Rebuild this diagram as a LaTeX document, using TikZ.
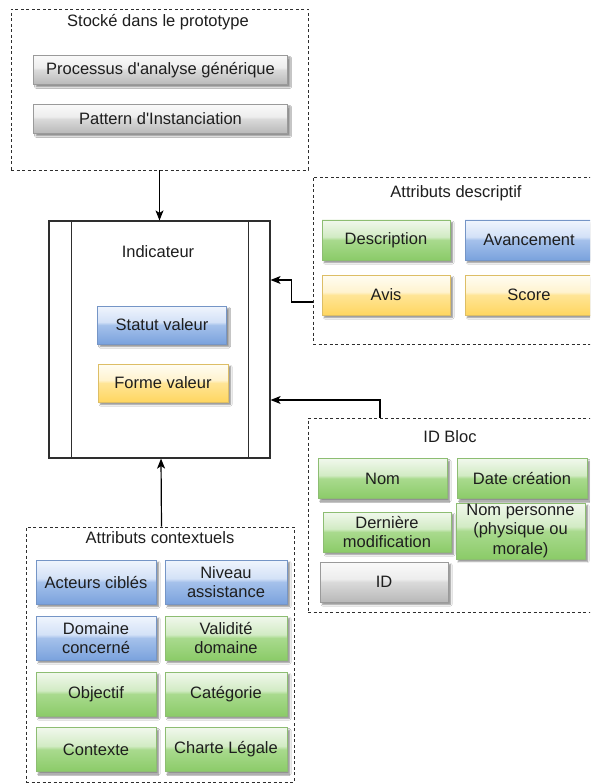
\documentclass[tikz,border=0pt]{standalone}
\usepackage{fontspec}
\setmainfont{Liberation Sans}
\usetikzlibrary{arrows.meta,shadows.blur}

\definecolor{txt}{HTML}{1E1E1E}
\definecolor{frame}{HTML}{2E2E2E}
% button palettes: top, light band, middle, bottom, stroke
\definecolor{greyT}{HTML}{FAFAFA}\definecolor{greyL}{HTML}{EDEDED}\definecolor{greyM}{HTML}{DADADA}\definecolor{greyB}{HTML}{B8B8B8}\definecolor{greyS}{HTML}{9A9A9A}
\definecolor{greenT}{HTML}{F1F8ED}\definecolor{greenL}{HTML}{D2EBC4}\definecolor{greenM}{HTML}{A9DA8E}\definecolor{greenB}{HTML}{8BCB68}\definecolor{greenS}{HTML}{8DBD72}
\definecolor{blueT}{HTML}{F0F5FD}\definecolor{blueL}{HTML}{D3E1F7}\definecolor{blueM}{HTML}{A5C1EB}\definecolor{blueB}{HTML}{7AA2DD}\definecolor{blueS}{HTML}{7595C6}
\definecolor{yellowT}{HTML}{FFFDF3}\definecolor{yellowL}{HTML}{FFF3CF}\definecolor{yellowM}{HTML}{FFE596}\definecolor{yellowB}{HTML}{FFD660}\definecolor{yellowS}{HTML}{DDBE66}

% glossy vertical shadings (the path spans 25bp..75bp)
\pgfdeclareverticalshading{glassgrey}{100bp}{color(0bp)=(greyB); color(25bp)=(greyB); color(50bp)=(greyM); color(54bp)=(greyL); color(75bp)=(greyT); color(100bp)=(greyT)}
\pgfdeclareverticalshading{glassgreen}{100bp}{color(0bp)=(greenB); color(25bp)=(greenB); color(50bp)=(greenM); color(54bp)=(greenL); color(75bp)=(greenT); color(100bp)=(greenT)}
\pgfdeclareverticalshading{glassblue}{100bp}{color(0bp)=(blueB); color(25bp)=(blueB); color(50bp)=(blueM); color(54bp)=(blueL); color(75bp)=(blueT); color(100bp)=(blueT)}
\pgfdeclareverticalshading{glassyellow}{100bp}{color(0bp)=(yellowB); color(25bp)=(yellowB); color(50bp)=(yellowM); color(54bp)=(yellowL); color(75bp)=(yellowT); color(100bp)=(yellowT)}

\newcommand\btnfont{\fontsize{16.5}{19.5}\selectfont}

\begin{document}
\begin{tikzpicture}[x=1pt,y=-1pt,
  btn/.style={rectangle, inner sep=1pt, align=center, font=\btnfont, text=txt,
    line width=0.5pt,
    blur shadow={shadow xshift=2.5pt, shadow yshift=-2.5pt, shadow blur radius=1.5pt, shadow opacity=45}},
  bsize/.style 2 args={minimum width=#1, minimum height=#2},
  greybtn/.style={btn, draw=greyS, shading=glassgrey},
  greenbtn/.style={btn, draw=greenS, shading=glassgreen},
  bluebtn/.style={btn, draw=blueS, shading=glassblue},
  yellowbtn/.style={btn, draw=yellowS, shading=glassyellow},
  group/.style={rectangle, draw=frame, line width=0.9pt, dash pattern=on 3pt off 2.5pt},
  title/.style={font=\btnfont, text=txt, inner sep=0pt},
  conn/.style={draw=black, line width=1.2pt, -{Stealth[length=10pt,width=8pt,inset=2.5pt]}}
]
\useasboundingbox (0,0) rectangle (590,783);
\clip (0,0) rectangle (590,783);
\fill[white] (0,0) rectangle (590,783);

% ---- prototype storage group
\node[group, bsize={297pt}{161pt}] (stock) at (159.5,89.5) {};
\node[title] (stockT) at (158,22) {Stocké dans le prototype};
\node[greybtn, bsize={254pt}{29pt}] (proc) at (160.5,70) {Processus d\textquotesingle analyse générique};
\node[greybtn, bsize={254pt}{29pt}] (patt) at (160.5,119) {Pattern d\textquotesingle Instanciation};

% ---- indicator
\node[rectangle, draw=frame, line width=1.2pt, bsize={221pt}{237pt}] (indic) at (159.5,339.5) {};
\draw[frame, line width=1.2pt] ([xshift=23pt]indic.north west) -- ([xshift=23pt]indic.south west);
\draw[frame, line width=1.2pt] ([xshift=-22pt]indic.north east) -- ([xshift=-22pt]indic.south east);
\node[title] (indicT) at (158,252) {Indicateur};
\node[bluebtn, bsize={129pt}{38pt}] (statut) at (162,325) {Statut valeur};
\node[yellowbtn, bsize={130pt}{38pt}] (forme) at (163,383) {Forme valeur};

% ---- descriptive attributes
\node[group, bsize={287pt}{167pt}] (desc) at (456.5,260.5) {};
\node[title] (descT) at (456,193) {Attributs descriptif};
\node[greenbtn, bsize={128pt}{40pt}] (description) at (386,240) {Description};
\node[bluebtn, bsize={128pt}{40pt}] (avanc) at (529,240) {Avancement};
\node[yellowbtn, bsize={128pt}{40pt}] (avis) at (386,295) {Avis};
\node[yellowbtn, bsize={128pt}{40pt}] (score) at (529,295) {Score};

% ---- ID block
\node[group, bsize={284pt}{194pt}] (idb) at (450,515) {};
\node[title] (idbT) at (450,437) {ID Bloc};
\node[greenbtn, bsize={129pt}{40pt}] (nom) at (382.5,478.5) {Nom};
\node[greenbtn, bsize={130pt}{40pt}] (date) at (522,478.5) {Date création};
\node[greenbtn, bsize={128pt}{40pt}] (derniere) at (387,532) {Dernière\\modification};
\node[greenbtn, bsize={129pt}{40pt}] (nomp) at (520.5,531) {Nom personne\\(physique ou\\morale)};
\node[greybtn, bsize={128pt}{40pt}] (idn) at (384,582) {ID};

% ---- contextual attributes
\node[group, bsize={268pt}{255pt}] (ctx) at (160,654.5) {};
\node[title] (ctxT) at (160,538) {Attributs contextuels};
\node[bluebtn, bsize={120pt}{44pt}] (acteurs) at (96,582) {Acteurs ciblés};
\node[bluebtn, bsize={122pt}{44pt}] (niveau) at (226,582) {Niveau\\assistance};
\node[bluebtn, bsize={120pt}{44pt}] (domaine) at (96,638) {Domaine\\concerné};
\node[greenbtn, bsize={122pt}{44pt}] (validite) at (226,638) {Validité\\domaine};
\node[greenbtn, bsize={120pt}{44pt}] (objectif) at (96,694) {Objectif};
\node[greenbtn, bsize={122pt}{44pt}] (categorie) at (226,694) {Catégorie};
\node[greenbtn, bsize={120pt}{44pt}] (contexte) at (96,749.5) {Contexte};
\node[greenbtn, bsize={122pt}{44pt}] (charte) at (226,749.5) {Charte Légale};

% ---- connectors into the indicator
\draw[conn] (stock.south) -- (indic.north);
\draw[conn] ([yshift=-41.5pt]desc.west) -- ++(-21,0) |- ([yshift=59.5pt]indic.east);
\draw[conn] ([xshift=-70pt]idb.north) |- ([yshift=-60.5pt]indic.east);
\draw[conn] ([xshift=1.5pt]ctx.north) -- ([xshift=1.5pt]indic.south);
\end{tikzpicture}
\end{document}
